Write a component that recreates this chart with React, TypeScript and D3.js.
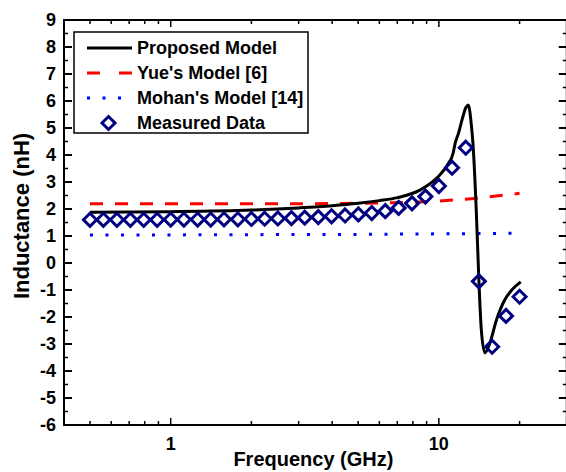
import React from "react";
import * as d3 from "d3";

const W = 566;
const H = 472;

const X_DOMAIN: [number, number] = [0.4, 30];
const Y_DOMAIN: [number, number] = [-6, 9];
const yTicks = [-6, -5, -4, -3, -2, -1, 0, 1, 2, 3, 4, 5, 6, 7, 8, 9];
const xMajorTicks = [1, 10];
const xMinorTicks = [0.4, 0.5, 0.6, 0.7, 0.8, 0.9, 2, 3, 4, 5, 6, 7, 8, 9, 20, 30];

// Proposed model (black line)
const proposedF = [0.5, 1, 2, 3, 4, 5, 6, 7, 8.5, 10, 10.8, 11.3, 11.5, 11.83, 12.2, 12.6, 12.88, 13.2, 13.4, 13.8, 14.1, 14.4, 14.85, 15.5, 16.4, 17.6, 18.7, 20.2];
const proposedL = [1.88, 1.9, 1.96, 2.04, 2.12, 2.21, 2.31, 2.42, 2.7, 3.22, 3.65, 4.06, 4.43, 4.8, 5.3, 5.75, 5.85, 5.17, 4.43, 1.85, -0.63, -2.48, -3.33, -2.96, -2.11, -1.37, -1.0, -0.7];

// Yue's model [6] (red dashed)
const yueF = [0.5, 1, 2, 4, 6, 8, 10, 14, 20];
const yueL = [2.19, 2.19, 2.19, 2.2, 2.22, 2.25, 2.29, 2.4, 2.58];

// Mohan's model [14] (blue dotted)
const mohanF = [0.5, 1, 2, 5, 10, 20];
const mohanL = [1.04, 1.04, 1.05, 1.06, 1.08, 1.1];

// Measured data (diamonds)
const measuredF = [0.5, 0.561, 0.63, 0.707, 0.793, 0.89, 1.0, 1.12, 1.26, 1.41, 1.58, 1.78, 2.0, 2.24, 2.51, 2.82, 3.16, 3.55, 3.98, 4.47, 5.01, 5.62, 6.31, 7.08, 7.94, 8.91, 10.0, 11.2, 12.6, 14.1, 15.8, 17.8, 20.0];
const measuredL = [1.6, 1.6, 1.6, 1.6, 1.6, 1.6, 1.61, 1.61, 1.61, 1.61, 1.62, 1.62, 1.63, 1.64, 1.65, 1.66, 1.68, 1.7, 1.73, 1.76, 1.8, 1.85, 1.92, 2.04, 2.21, 2.46, 2.85, 3.53, 4.27, -0.68, -3.1, -1.96, -1.25];

const legendLabels = ["Proposed Model", "Yue's Model [6]", "Mohan's Model [14]", "Measured Data"];

const FONT = "'Liberation Sans', Arial, Helvetica, sans-serif";

export default function App() {
  const left = 64, right = 566.8, top = 20, bottom = 425;
  const x = d3.scaleLog().domain(X_DOMAIN).range([left, right]);
  const y = d3.scaleLinear().domain(Y_DOMAIN).range([bottom, top]);

  const line = d3
    .line<[number, number]>()
    .x((d) => x(d[0]))
    .y((d) => y(d[1]));
  const smooth = d3
    .line<[number, number]>()
    .x((d) => x(d[0]))
    .y((d) => y(d[1]))
    .curve(d3.curveMonotoneX);

  const zip = (a: number[], b: number[]) => a.map((v, i) => [v, b[i]] as [number, number]);

  const diamond = (cx: number, cy: number, r: number) =>
    `M${cx},${cy - r}L${cx + r},${cy}L${cx},${cy + r}L${cx - r},${cy}Z`;

  const yMinor = d3.range(Y_DOMAIN[0] + 0.5, Y_DOMAIN[1], 1);

  const legendX0 = 87, legendX1 = 132, legendTextX = 137;
  const legendRows = [48, 73, 98, 123];

  return (
    <svg width={W} height={H} style={{ position: "absolute", left: 0, top: 0 }} fontFamily={FONT}>
      <rect x={0} y={0} width={W} height={H} fill="white" />

      {/* Series */}
      <path d={line(zip(yueF, yueL)) || ""} fill="none" stroke="#ff0000" strokeWidth={3} strokeDasharray="13,12" />
      <path d={line(zip(mohanF, mohanL)) || ""} fill="none" stroke="#0000ff" strokeWidth={3} strokeDasharray="3,12.5" />
      <path d={smooth(zip(proposedF, proposedL)) || ""} fill="none" stroke="#000" strokeWidth={3} strokeLinejoin="round" />
      {measuredF.map((f, i) => (
        <path key={i} d={diamond(x(f), y(measuredL[i]), 6.5)} fill="none" stroke="#000080" strokeWidth={3} />
      ))}

      {/* Frame */}
      <rect x={left} y={top} width={right - left} height={bottom - top} fill="none" stroke="#000" strokeWidth={2} />

      {/* Y ticks */}
      {yTicks.map((t) => (
        <g key={"y" + t}>
          <line x1={left} x2={left + 8} y1={y(t)} y2={y(t)} stroke="#000" strokeWidth={2} />
          <line x1={right} x2={right - 8} y1={y(t)} y2={y(t)} stroke="#000" strokeWidth={2} />
          <text x={56} y={y(t)} dy="0.35em" textAnchor="end" fontSize={18} fontWeight="bold">
            {t}
          </text>
        </g>
      ))}
      {yMinor.map((t) => (
        <g key={"ym" + t}>
          <line x1={left} x2={left + 4} y1={y(t)} y2={y(t)} stroke="#000" strokeWidth={1.5} />
          <line x1={right} x2={right - 4} y1={y(t)} y2={y(t)} stroke="#000" strokeWidth={1.5} />
        </g>
      ))}

      {/* X ticks */}
      {xMajorTicks.map((t) => (
        <g key={"x" + t}>
          <line x1={x(t)} x2={x(t)} y1={bottom} y2={bottom - 7} stroke="#000" strokeWidth={1.5} />
          <line x1={x(t)} x2={x(t)} y1={top} y2={top + 7} stroke="#000" strokeWidth={1.5} />
          <text x={x(t)} y={450} textAnchor="middle" fontSize={18} fontWeight="bold">
            {t}
          </text>
        </g>
      ))}
      {xMinorTicks.map((t) => (
        <g key={"xm" + t}>
          <line x1={x(t)} x2={x(t)} y1={bottom} y2={bottom - 4} stroke="#000" strokeWidth={1.5} />
          <line x1={x(t)} x2={x(t)} y1={top} y2={top + 4} stroke="#000" strokeWidth={1.5} />
        </g>
      ))}

      {/* Axis titles */}
      <text x={(left + right) / 2 - 2} y={466} textAnchor="middle" fontSize={20} fontWeight="bold">
        Frequency (GHz)
      </text>
      <text transform={`translate(29, 216) rotate(-90)`} textAnchor="middle" fontSize={22} fontWeight="bold">
        Inductance (nH)
      </text>

      {/* Legend */}
      <rect x={74} y={32} width={234} height={101} fill="white" stroke="#000" strokeWidth={1.5} />
      <line x1={legendX0} x2={legendX1} y1={legendRows[0]} y2={legendRows[0]} stroke="#000" strokeWidth={3} />
      <line x1={legendX0} x2={legendX1} y1={legendRows[1]} y2={legendRows[1]} stroke="#ff0000" strokeWidth={3} strokeDasharray="13,19" />
      <line x1={legendX0} x2={legendX1} y1={legendRows[2]} y2={legendRows[2]} stroke="#0000ff" strokeWidth={3} strokeDasharray="3,12.5" />
      <path d={diamond((legendX0 + legendX1) / 2 - 1, legendRows[3], 6.5)} fill="none" stroke="#000080" strokeWidth={3} />
      {legendLabels.map((l, i) => (
        <text key={l} x={legendTextX} y={legendRows[i]} dy="0.36em" fontSize={18} fontWeight="bold">
          {l}
        </text>
      ))}
    </svg>
  );
}
